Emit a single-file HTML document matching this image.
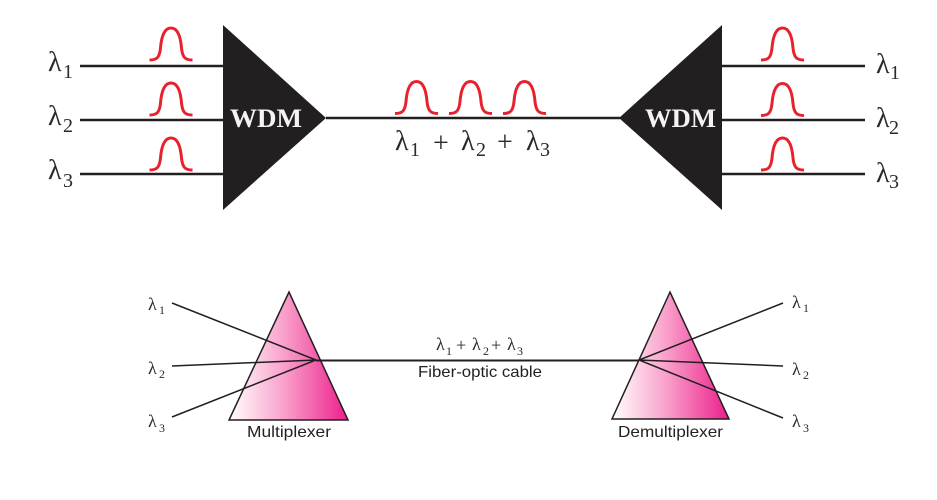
<!DOCTYPE html>
<html><head><meta charset="utf-8"><style>
html,body{margin:0;padding:0;background:#fff}
svg{display:block}
.l{font-family:"Liberation Serif",serif;fill:#2a2a2a}
.s{font-family:"Liberation Sans",sans-serif;fill:#222}
.p{fill:none;stroke:#e8212e;stroke-width:3}
</style></head><body>
<svg width="937" height="500" viewBox="0 0 937 500" xmlns="http://www.w3.org/2000/svg">
<defs>
<linearGradient id="g" x1="0" x2="1" y1="0" y2="0"><stop offset="0" stop-color="#fff"/><stop offset="0.45" stop-color="#f9a3cc"/><stop offset="1" stop-color="#ec1f8c"/></linearGradient>
<path id="b" d="M0 32 C7 32 10 30 11 20 C12 8 15 0 21.500 0 C28 0 31 8 32 20 C33 30 36 32 43 32"/>
</defs>
<rect width="937" height="500" fill="#fff"/>
<g stroke="#231f20" fill="none">
<path d="M80 66H223M80 120H223M80 174H223M722 66H865M722 120H865M722 174H865" stroke-width="2.500"/>
<path d="M326 118H620" stroke-width="2.500"/>
</g>
<polygon points="223,25 223,210 326,118" fill="#231f20"/>
<polygon points="722,25 722,210 619,118" fill="#231f20"/>
<g class="p">
<use href="#b" x="149.500" y="28"/><use href="#b" x="149.500" y="83"/><use href="#b" x="149.500" y="138"/>
<use href="#b" x="395" y="81.500"/><use href="#b" x="449" y="81.500"/><use href="#b" x="503" y="81.500"/>
<use href="#b" x="761" y="28"/><use href="#b" x="761" y="83.500"/><use href="#b" x="761" y="138"/>
</g>
<g font-family="Liberation Serif,serif" font-weight="bold" font-size="26" fill="#f4f4f4">
<text x="230" y="127" textLength="72" lengthAdjust="spacingAndGlyphs">WDM</text>
<text x="645" y="127" textLength="71" lengthAdjust="spacingAndGlyphs">WDM</text>
</g>
<g class="l" font-size="28">
<text x="48" y="71">λ</text><text x="48" y="125">λ</text><text x="48" y="179">λ</text>
<text x="876" y="73">λ</text><text x="876" y="127">λ</text><text x="876" y="182">λ</text>
<text x="395" y="150">λ</text><text x="461" y="150">λ</text><text x="526" y="150">λ</text>
</g>
<g class="l" font-size="20">
<text x="63" y="78">1</text><text x="63" y="132">2</text><text x="63" y="187">3</text>
<text x="890" y="79">1</text><text x="889" y="134">2</text><text x="889" y="188">3</text>
<text x="410" y="156">1</text><text x="476" y="156">2</text><text x="540" y="156">3</text>
</g>
<g class="l" font-size="28">
<text x="433" y="152">+</text><text x="497" y="151">+</text>
</g>
<polygon points="289,292 229,420 348,420" fill="url(#g)" stroke="#231f20" stroke-width="1.500"/>
<polygon points="670,292 612,419 729,419" fill="url(#g)" stroke="#231f20" stroke-width="1.500"/>
<g stroke="#231f20" fill="none" stroke-width="1.500">
<path d="M172 303L316 360L172 417M172 366L316 360"/>
<path d="M783 303L639 360L783 418M783 366L639 360"/>
<path d="M316 360.500H639" stroke-width="2"/>
</g>
<g class="l" font-size="18">
<text x="148" y="310">λ</text><text x="148" y="374">λ</text><text x="148" y="427">λ</text>
<text x="792" y="308">λ</text><text x="792" y="375">λ</text><text x="792" y="427">λ</text>
<text x="436" y="350">λ</text><text x="472" y="350">λ</text><text x="507" y="350">λ</text>
</g>
<g class="l" font-size="12">
<text x="159" y="314">1</text><text x="159" y="378">2</text><text x="159" y="432">3</text>
<text x="803" y="312">1</text><text x="803" y="379">2</text><text x="803" y="432">3</text>
<text x="446" y="355">1</text><text x="483" y="355">2</text><text x="517" y="355">3</text>
</g>
<g class="l" font-size="18">
<text x="456" y="351">+</text><text x="491" y="351">+</text>
</g>
<g class="s" font-size="16">
<text x="247" y="437" textLength="84" lengthAdjust="spacingAndGlyphs">Multiplexer</text>
<text x="618" y="437" textLength="105" lengthAdjust="spacingAndGlyphs">Demultiplexer</text>
<text x="418" y="377" textLength="124" lengthAdjust="spacingAndGlyphs">Fiber-optic cable</text>
</g>
</svg>
</body></html>
